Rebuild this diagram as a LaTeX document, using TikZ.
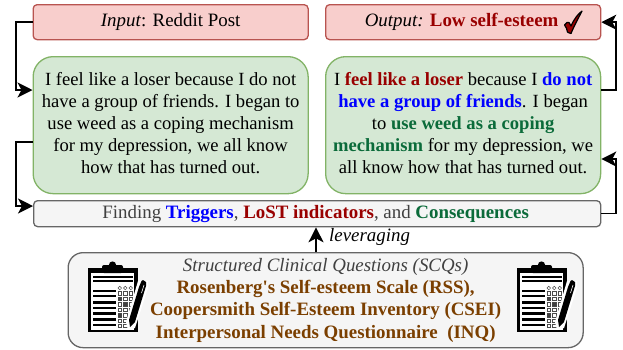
\documentclass[tikz,border=0pt]{standalone}
\usepackage{fontspec}
\setmainfont{Liberation Serif}
\newfontfamily\straightq{Liberation Serif}
\usetikzlibrary{arrows.meta}
\definecolor{rfill}{HTML}{F8CECC}\definecolor{rline}{HTML}{B85450}
\definecolor{gfill}{HTML}{D5E8D4}\definecolor{gline}{HTML}{82B366}
\definecolor{hfill}{HTML}{F5F5F5}\definecolor{hline}{HTML}{666666}
\definecolor{dred}{HTML}{990000}\definecolor{dgreen}{HTML}{0B6B3A}
\definecolor{dblue}{HTML}{0000FF}\definecolor{brown1}{HTML}{7B3F00}\definecolor{greytxt}{HTML}{404040}
\newcommand{\tr}[1]{\textbf{\textcolor{dred}{#1}}}
\newcommand{\tb}[1]{\textbf{\textcolor{dblue}{#1}}}
\newcommand{\tg}[1]{\textbf{\textcolor{dgreen}{#1}}}
\newcommand{\liftlines}[1]{\raisebox{1.2pt}{\begin{tabular}{@{}c@{}}#1\end{tabular}}}
\tikzset{
 boxbase/.style={draw,line width=1.3pt,inner sep=0pt,anchor=north west,align=center,font=\fontsize{18.9}{22}\selectfont},
 redbox/.style={boxbase,fill=rfill,draw=rline,rounded corners=4pt,minimum width=275pt,minimum height=35pt},
 greenbox/.style={boxbase,fill=gfill,draw=gline,rounded corners=20pt,minimum width=275pt,minimum height=137pt,font=\fontsize{18.6}{22}\selectfont},
 greybox/.style={boxbase,fill=hfill,draw=hline,rounded corners=4pt,minimum width=567pt,minimum height=26pt},
 scqbox/.style={boxbase,fill=hfill,draw=hline,rounded corners=15pt,minimum width=515pt,minimum height=95pt,text=brown1,font=\fontsize{18.9}{22.3}\selectfont\bfseries},
 conn/.style={draw=black,line width=1.4pt,-{Stealth[length=15pt,width=15pt,inset=4pt]}},
 clipicon/.pic={
   \fill[black] (0,0) rectangle (50,64);
   \fill[white] (3,5) rectangle (46,62);
   \fill[black,rounded corners=2pt] (14,-3) rectangle (35,5);
   \fill[black] (24.5,-3) circle (3.6);
   \foreach \yy in {9,12.5}{\draw[black,line width=2pt] (5,\yy) -- (45,\yy);}
   \foreach \yy in {23,28,34.5,40,45.5,51.5,57}{\draw[black,line width=2.6pt] (5,\yy) -- (28,\yy);}
   \foreach \cc in {30,35.5,41}{
     \draw[black!70,line width=.5pt] (\cc+1.8,20) circle (1.8);
     \foreach \yy in {23.5,29,34.5,40,45.5,51,56}{\draw[black!70,line width=.6pt] (\cc,\yy) rectangle ++(3.6,3.6);}
   }
   \fill[black!75] (30,29) rectangle ++(3.6,3.6) (35.5,34.5) rectangle ++(3.6,3.6) (41,40) rectangle ++(3.6,3.6) (30,45.5) rectangle ++(3.6,3.6) (41,56) rectangle ++(3.6,3.6);
   \fill[white] (38,54) -- (50,13) -- (60,13) -- (60,20) -- (47,60) -- (40,62) -- cycle;
   \fill[black] (41,52) -- (51,19) -- (53.5,13) -- (55,12) -- (58,14) -- (58,18) -- (47,54) -- (42,59) -- cycle;
   \draw[white,line width=.6pt] (53.5,25) -- (56,17);
 }
}
\begin{document}
\begin{tikzpicture}[x=1pt,y=-1pt]
\useasboundingbox (0,0) rectangle (623,349);
\node[redbox] (input) at (32.5,4) {\textit{Input}: Reddit Post};
\node[redbox] (output) at (325,4) {\textit{Output:} \tr{Low self-esteem}\hspace{3pt}\mbox{}};
\node[greenbox] (left) at (32.5,56) {\liftlines{I feel like a loser because I do not\\have a group of friends. I began to\\use weed as a coping mechanism\\for my depression, we all know\\how that has turned out.}};
\node[greenbox] (right) at (325,56) {\liftlines{I \tr{feel like a loser} because I \tb{do not}\\\tb{have a group of friends}. I began\\to \tg{use weed as a coping}\\\tg{mechanism} for my depression, we\\all know how that has turned out.}};
\node[greybox] (find) at (33,200) {\raisebox{-1.8pt}{\textcolor{greytxt}{Finding \tb{Triggers}, \tr{LoST indicators}, and \tg{Consequences}}}\hspace{3pt}\mbox{}};
\node[scqbox] (scq) at (67.5,252) {\textcolor{greytxt}{\mdseries\itshape Structured Clinical Questions (SCQs)}\\Rosenberg{\straightq '}s Self-esteem Scale (RSS),\\Coopersmith Self-Esteem Inventory (CSEI)\\Interpersonal Needs Questionnaire\ \ (INQ)};
\node[inner sep=0pt,anchor=west,font=\fontsize{18.9}{20}\selectfont\itshape] (lev) at (329,237) {leveraging};
% check mark
\path[fill=dred,draw=black,line width=1.2pt,line join=round]
  (564.5,25) .. controls (566,22.5) and (568,21.5) .. (569,22.5) -- (571,26) .. controls (574,19) and (578,14) .. (582,11)
  .. controls (579,17) and (574,26) .. (571,33.5) .. controls (569,33) and (568,32.5) .. (567.5,32) .. controls (567,29) and (566,27) .. cycle;
\pic at (88,268) {clipicon};
\pic at (517,268) {clipicon};
\coordinate (y90) at (0,90);
\coordinate (y142) at (0,142);
\coordinate (y206) at (0,206);
\coordinate (y159) at (0,159);
\coordinate (x316) at (316,0);
\coordinate (xl) at (16,0);
\coordinate (xr) at (616,0);
\draw[conn] (input.west) -- (input.west-|xl) |- (left.west|-y90);
\draw[conn] (left.west|-y142) -- (xl|-y142) |- (find.west|-y206);
\draw[conn] (right.east|-y90) -- (xr|-y90) |- (output.east);
\draw[conn] (find.east) -- (find.east-|xr) |- (right.east|-y159);
\draw[conn] (scq.north-|x316) -- (find.south-|x316);
\end{tikzpicture}
\end{document}
